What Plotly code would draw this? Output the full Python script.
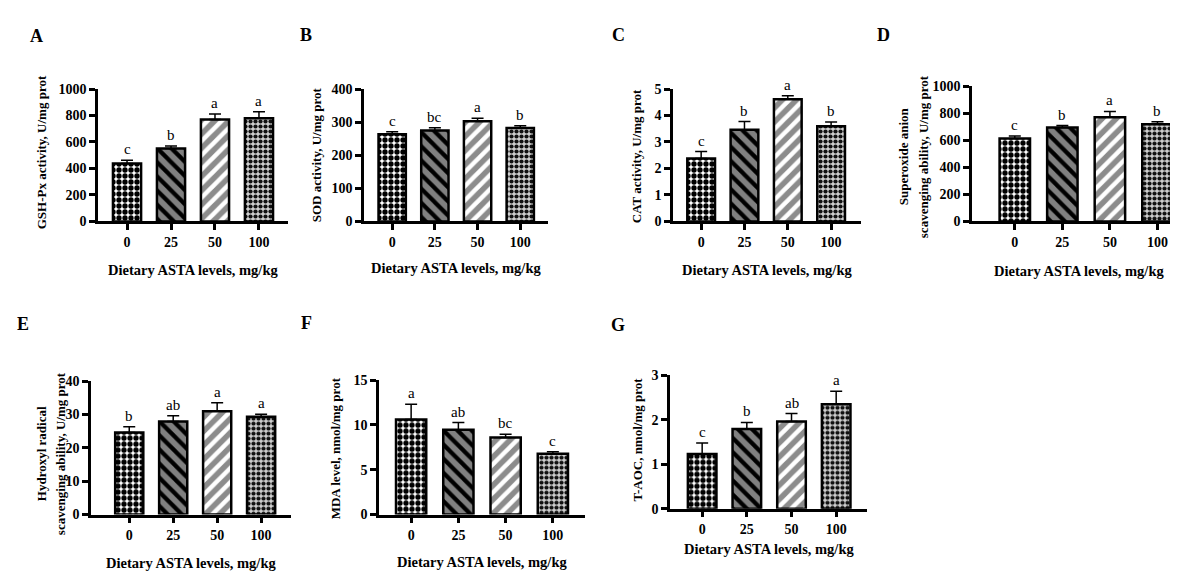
import plotly.graph_objects as go

W, H = 1178, 572
FONT = "Liberation Serif"

categories = ["0", "25", "50", "100"]

gshpx_mean = [438, 551, 770, 779]
gshpx_sem = [25, 18, 41, 49]
gshpx_letters = ["c", "b", "a", "a"]

sod_mean = [263, 275, 303, 282]
sod_sem = [8, 8, 9, 7]
sod_letters = ["c", "bc", "a", "b"]

cat_mean = [2.38, 3.46, 4.61, 3.59]
cat_sem = [0.26, 0.31, 0.14, 0.16]
cat_letters = ["c", "b", "a", "b"]

sa_mean = [612, 694, 770, 718]
sa_sem = [20, 14, 43, 19]
sa_letters = ["c", "b", "a", "b"]

hr_mean = [24.6, 27.9, 31.0, 29.3]
hr_sem = [1.7, 1.7, 2.5, 0.8]
hr_letters = ["b", "ab", "a", "a"]

mda_mean = [10.6, 9.47, 8.6, 6.8]
mda_sem = [1.7, 0.8, 0.36, 0.22]
mda_letters = ["a", "ab", "bc", "c"]

taoc_mean = [1.23, 1.79, 1.96, 2.35]
taoc_sem = [0.25, 0.15, 0.18, 0.29]
taoc_letters = ["c", "b", "ab", "a"]

x_title = "Dietary ASTA levels, mg/kg"

panels = [
    dict(tag="A", ytitle=["GSH-Px activity, U/mg prot"], ytx=[33], mean=gshpx_mean, sem=gshpx_sem,
         let=gshpx_letters, ymax=1000, dtick=200, box=(90, 280, 212, 76), xr=(-0.66, 3.66),
         tagpos=(28, 22), yty=141, xty=262),
    dict(tag="B", ytitle=["SOD activity, U/mg prot"], ytx=[308], mean=sod_mean, sem=sod_sem,
         let=sod_letters, ymax=400, dtick=100, box=(356, 540, 212, 76), xr=(-0.66, 3.65),
         tagpos=(298, 21), yty=144, xty=260),
    dict(tag="C", ytitle=["CAT activity, U/mg prot"], ytx=[628], mean=cat_mean, sem=cat_sem,
         let=cat_letters, ymax=5, dtick=1, box=(665, 853, 212, 76), xr=(-0.65, 3.69),
         tagpos=(610, 21), yty=145, xty=262),
    dict(tag="D", ytitle=["Superoxide anion", "scavenging ability, U/mg prot"], ytx=[895, 915],
         mean=sa_mean, sem=sa_sem, let=sa_letters, ymax=1000, dtick=200, box=(964, 1178, 212, 73),
         xr=(-0.9, 3.6), tagpos=(875, 21), yty=145, xty=263),
    dict(tag="E", ytitle=["Hydroxyl radical", "scavenging ability, U/mg prot"], ytx=[33, 52],
         mean=hr_mean, sem=hr_sem, let=hr_letters, ymax=40, dtick=10, box=(83, 283, 513, 376),
         xr=(-0.87, 3.68), tagpos=(15, 317), yty=451, xty=563),
    dict(tag="F", ytitle=["MDA level, nmol/mg prot"], ytx=[327], mean=mda_mean, sem=mda_sem,
         let=mda_letters, ymax=15, dtick=5, box=(371, 577, 513, 375), xr=(-0.68, 3.68),
         tagpos=(298, 316), yty=445, xty=562),
    dict(tag="G", ytitle=["T-AOC, nmol/mg prot"], ytx=[630], mean=taoc_mean, sem=taoc_sem,
         let=taoc_letters, ymax=3, dtick=1, box=(662, 859, 507, 370), xr=(-0.72, 3.69),
         tagpos=(610, 318), yty=436, xty=548),
]

# fill style per dietary level
pat_shape = [".", "\\", "/", "."]
pat_bg = ["#ffffff", "#808080", "#8c8c8c", "#cfcfcf"]
pat_fg = ["#000000", "#000000", "#ffffff", "#111111"]
pat_size = [6, 10, 10, 5]
pat_sol = [0.62, 0.42, 0.45, 0.55]


def px(x):
    return x / W


def py(y):
    return 1 - y / H


fig = go.Figure()
annotations = []
xpos = list(range(len(categories)))

for i, p in enumerate(panels, start=1):
    xa = "x" if i == 1 else f"x{i}"
    ya = "y" if i == 1 else f"y{i}"
    x0, x1, y0, y1 = p["box"]
    for j in xpos:
        fig.add_trace(go.Bar(
            x=[xpos[j]], y=[p["mean"][j]], xaxis=xa, yaxis=ya, width=0.64,
            marker=dict(color=pat_bg[j], line=dict(color="black", width=2.5),
                        pattern=dict(shape=pat_shape[j], bgcolor=pat_bg[j], fgcolor=pat_fg[j],
                                     fgopacity=1, size=pat_size[j], solidity=pat_sol[j],
                                     fillmode="replace")),
            error_y=dict(type="data", array=[p["sem"][j]], arrayminus=[0], symmetric=False,
                         color="black", thickness=1.5, width=6),
            showlegend=False, hoverinfo="skip",
        ))
    axis_common = dict(showline=True, linecolor="black", linewidth=2.5, ticks="outside",
                       ticklen=6, tickwidth=2.5, tickcolor="black", showgrid=False, zeroline=False,
                       tickfont=dict(family=FONT, size=14, color="black", weight="bold"))
    fig.update_layout(**{
        ("xaxis" if i == 1 else f"xaxis{i}"): dict(
            domain=[px(x0), px(x1)], anchor=ya, range=list(p["xr"]),
            tickvals=xpos, ticktext=categories, **axis_common),
        ("yaxis" if i == 1 else f"yaxis{i}"): dict(
            domain=[py(y0), py(y1)], anchor=xa, range=[0, p["ymax"]], dtick=p["dtick"],
            tick0=0, **axis_common),
    })
    for j in xpos:
        annotations.append(dict(
            x=j, y=p["mean"][j] + p["sem"][j], xref=xa, yref=ya, text=p["let"][j],
            showarrow=False, yanchor="bottom", yshift=1,
            font=dict(family=FONT, size=15, color="black")))
    annotations.append(dict(x=px(p["tagpos"][0]), y=py(p["tagpos"][1]), xref="paper", yref="paper",
                            text=p["tag"], showarrow=False, xanchor="center", yanchor="middle",
                            font=dict(family=FONT, size=18, color="black", weight="bold")))
    for line, lx in zip(p["ytitle"], p["ytx"]):
        annotations.append(dict(x=px(lx), y=py(p["yty"]), xref="paper", yref="paper",
                                text=line, textangle=-90, showarrow=False,
                                xanchor="center", yanchor="middle",
                                font=dict(family=FONT, size=13, color="black", weight="bold")))
    annotations.append(dict(x=px((x0 + x1) / 2), y=py(p["xty"]), xref="paper", yref="paper",
                            text=x_title, showarrow=False, xanchor="center", yanchor="middle",
                            font=dict(family=FONT, size=14.5, color="black", weight="bold")))

fig.update_layout(
    width=W, height=H, margin=dict(l=0, r=0, t=0, b=0),
    paper_bgcolor="white", plot_bgcolor="white", barmode="overlay",
    annotations=annotations,
)

fig.write_html("out.html")
